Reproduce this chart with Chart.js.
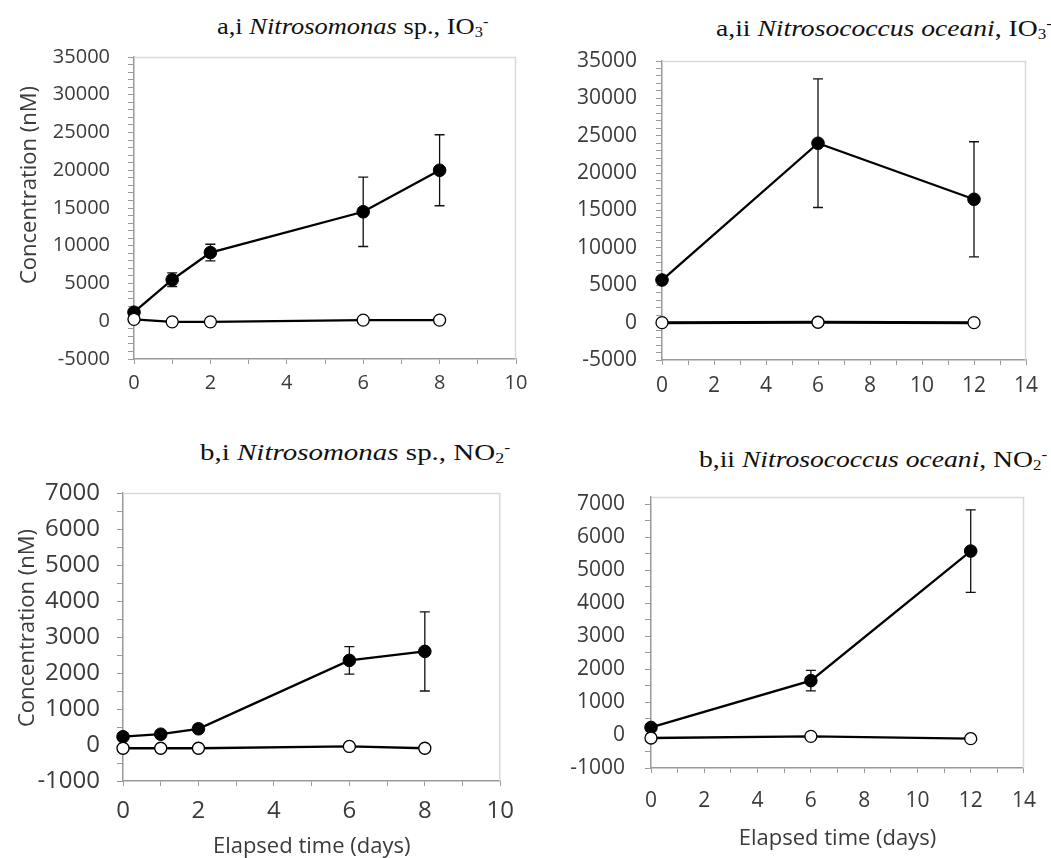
<!DOCTYPE html>
<html>
<head>
<meta charset="utf-8">
<script src="https://cdn.jsdelivr.net/npm/chart.js@4.4.1/dist/chart.umd.min.js"></script>
<style>
html,body{margin:0;padding:0;background:#fff;}
body{width:1051px;height:858px;position:relative;overflow:hidden;}
canvas{position:absolute;}
.title{position:absolute;font-family:"Liberation Serif","Times New Roman",serif;font-size:23px;line-height:1;color:#111;white-space:nowrap;transform-origin:left top;}
.title .sb{font-size:0.62em;vertical-align:-0.25em;}
.title .sp{font-size:0.62em;vertical-align:0.55em;}
.ytitle{position:absolute;font-family:"Open Sans",sans-serif;font-size:22px;line-height:1;color:#3b3b3b;white-space:nowrap;transform:translate(-50%,-50%) rotate(-90deg);}
</style>
</head>
<body>
<div class="title" style="left:217px;top:14px;transform:scaleX(1.15);">a,i <i>Nitrosomonas</i> sp., IO<span class="sb">3</span><span class="sp">-</span></div>
<div class="title" style="left:716px;top:16px;transform:scaleX(1.2);">a,ii <i>Nitrosococcus oceani</i>, IO<span class="sb">3</span><span class="sp">-</span></div>
<div class="title" style="left:200px;top:440px;transform:scaleX(1.26);">b,i <i>Nitrosomonas</i> sp., NO<span class="sb">2</span><span class="sp">-</span></div>
<div class="title" style="left:699px;top:447px;transform:scaleX(1.2);">b,ii <i>Nitrosococcus oceani</i>, NO<span class="sb">2</span><span class="sp">-</span></div>

<canvas id="cai" width="545" height="420" style="left:0px;top:0px;"></canvas>
<canvas id="caii" width="526" height="420" style="left:525px;top:0px;"></canvas>
<canvas id="cbi" width="525" height="440" style="left:0px;top:430px;"></canvas>
<canvas id="cbii" width="526" height="440" style="left:525px;top:430px;"></canvas>

<div class="ytitle" id="ytA" style="left:27px;top:185px;"></div>
<div class="ytitle" id="ytB" style="left:25px;top:628px;"></div>

<script>
// ---- data ----
const aiDays = [0, 1, 2, 6, 8];
const aiTreat = [1200, 5500, 9100, 14500, 20000];
const aiTreatErr = [300, 900, 1100, 4600, 4700];
const aiCtrl = [250, -80, -80, 150, 150];

const aiiDays = [0, 6, 12];
const aiiTreat = [5700, 24000, 16500];
const aiiTreatErr = [300, 8600, 7700];
const aiiCtrl = [0, 50, 0];

const biDays = [0, 1, 2, 6, 8];
const biTreat = [230, 300, 450, 2350, 2600];
const biTreatErr = [40, 40, 60, 380, 1100];
const biCtrl = [-90, -90, -90, -40, -90];

const biiDays = [0, 6, 12];
const biiTreat = [230, 1650, 5580];
const biiTreatErr = [40, 310, 1250];
const biiCtrl = [-90, -40, -110];

const yTitleText = 'Concentration (nM)';
const xTitleText = 'Elapsed time (days)';

document.getElementById('ytA').textContent = yTitleText;
document.getElementById('ytB').textContent = yTitleText;

// ---- style ----
const AXIS = '#9a9a9a', BOX = '#d9d9d9', TXT = '#3b3b3b';
const FAMILY = "'Open Sans', sans-serif";

const boxPlugin = {
  id: 'plotBox',
  beforeDatasetsDraw(chart) {
    const {ctx, chartArea: {left, top, right, bottom}} = chart;
    ctx.save();
    ctx.strokeStyle = BOX; ctx.lineWidth = 1.5;
    ctx.beginPath();
    ctx.moveTo(left, top + 0.5); ctx.lineTo(right - 0.5, top + 0.5); ctx.lineTo(right - 0.5, bottom);
    ctx.stroke();
    ctx.restore();
  }
};

const errPlugin = {
  id: 'errBars',
  beforeDatasetsDraw(chart) {
    const {ctx, scales: {x, y}} = chart;
    chart.data.datasets.forEach(ds => {
      if (!ds.errors) return;
      ctx.save();
      ctx.strokeStyle = '#111'; ctx.lineWidth = 1.3;
      ds.data.forEach((p, i) => {
        const e = ds.errors[i];
        if (!e) return;
        const px = x.getPixelForValue(p.x);
        const y1 = y.getPixelForValue(p.y + e), y2 = y.getPixelForValue(p.y - e);
        ctx.beginPath();
        ctx.moveTo(px, y1); ctx.lineTo(px, y2);
        ctx.moveTo(px - 5, y1); ctx.lineTo(px + 5, y1);
        ctx.moveTo(px - 5, y2); ctx.lineTo(px + 5, y2);
        ctx.stroke();
      });
      ctx.restore();
    });
  }
};

function makePanel(o) {
  const pts = (days, vals) => days.map((d, i) => ({x: d, y: vals[i]}));
  const tickFont = {family: FAMILY, size: o.fs};
  new Chart(document.getElementById(o.id), {
    type: 'line',
    data: {
      datasets: [
        {label: 'Control', data: pts(o.days, o.ctrl), borderColor: '#000', borderWidth: o.ctrlWidth || 2.3,
         pointRadius: 6, pointBackgroundColor: '#fff', pointBorderColor: '#000', pointBorderWidth: 1.3,
         clip: false, tension: 0},
        {label: 'Treatment', data: pts(o.days, o.treat), errors: o.err, borderColor: '#000', borderWidth: 2.3,
         pointRadius: 6.3, pointBackgroundColor: '#000', pointBorderColor: '#000', pointBorderWidth: 1,
         clip: false, tension: 0}
      ]
    },
    options: {
      responsive: false, animation: false, devicePixelRatio: 1,
      layout: {padding: o.pad},
      plugins: {legend: {display: false}, tooltip: {enabled: false}},
      scales: {
        x: {
          type: 'linear', min: 0, max: o.xMax,
          afterFit: s => { s.height = o.xH; },
          ticks: {stepSize: 1, autoSkip: false, maxRotation: 0, color: TXT, font: tickFont, padding: o.xPad,
                  callback: v => (v % 2 === 0 ? String(v) : '')},
          grid: {drawOnChartArea: false, drawTicks: true, tickLength: 5, color: AXIS, lineWidth: 1},
          border: {color: AXIS, width: 1.5},
          title: {display: !!o.xTitle, text: xTitleText, color: TXT, font: {family: FAMILY, size: 22},
                  padding: {top: 0, bottom: o.xTitlePad || 0}}
        },
        y: {
          min: o.yMin, max: o.yMax,
          afterFit: s => { s.width = o.yW; },
          afterBuildTicks: s => {
            const t = [];
            for (let v = o.yMin; v <= o.yTickMax + 1e-6; v += o.yStep) t.push({value: v});
            s.ticks = t;
          },
          ticks: {autoSkip: false, color: TXT, font: tickFont, padding: o.yPad,
                  callback: v => (v % o.yMajor === 0 ? String(v) : '')},
          grid: {drawOnChartArea: false, drawTicks: true, tickLength: 6, color: AXIS, lineWidth: 1},
          border: {color: AXIS, width: 1.5},
          title: {display: false}
        }
      }
    },
    plugins: [boxPlugin, errPlugin]
  });
}

makePanel({id: 'cai', days: aiDays, treat: aiTreat, err: aiTreatErr, ctrl: aiCtrl, fs: 20,
  xMax: 10, yMin: -5000, yMax: 35000, yTickMax: 35000, yStep: 1000, yMajor: 5000,
  pad: {left: 0, top: 57, right: 29, bottom: 16}, xH: 45, yW: 134, xPad: 7, yPad: 18});

makePanel({id: 'caii', days: aiiDays, treat: aiiTreat, err: aiiTreatErr, ctrl: aiiCtrl, fs: 21,
  xMax: 14, yMin: -5000, yMax: 35000, yTickMax: 35000, yStep: 1000, yMajor: 5000,
  pad: {left: 0, top: 61, right: 25, bottom: 15}, xH: 45, yW: 137, xPad: 8, yPad: 19, ctrlWidth: 3});

makePanel({id: 'cbi', days: biDays, treat: biTreat, err: biTreatErr, ctrl: biCtrl, fs: 24,
  xMax: 10, yMin: -1000, yMax: 7000, yTickMax: 7000, yStep: 500, yMajor: 1000,
  pad: {left: 0, top: 63, right: 24, bottom: 0}, xH: 89, yW: 123, xPad: 11, yPad: 17,
  xTitle: true, xTitlePad: 10});

makePanel({id: 'cbii', days: biiDays, treat: biiTreat, err: biiTreatErr, ctrl: biiCtrl, fs: 21,
  xMax: 14, yMin: -1000, yMax: 7220, yTickMax: 7000, yStep: 500, yMajor: 1000,
  pad: {left: 0, top: 67, right: 26, bottom: 0}, xH: 102, yW: 126, xPad: 15, yPad: 20,
  xTitle: true, xTitlePad: 18});
</script>
</body>
</html>
